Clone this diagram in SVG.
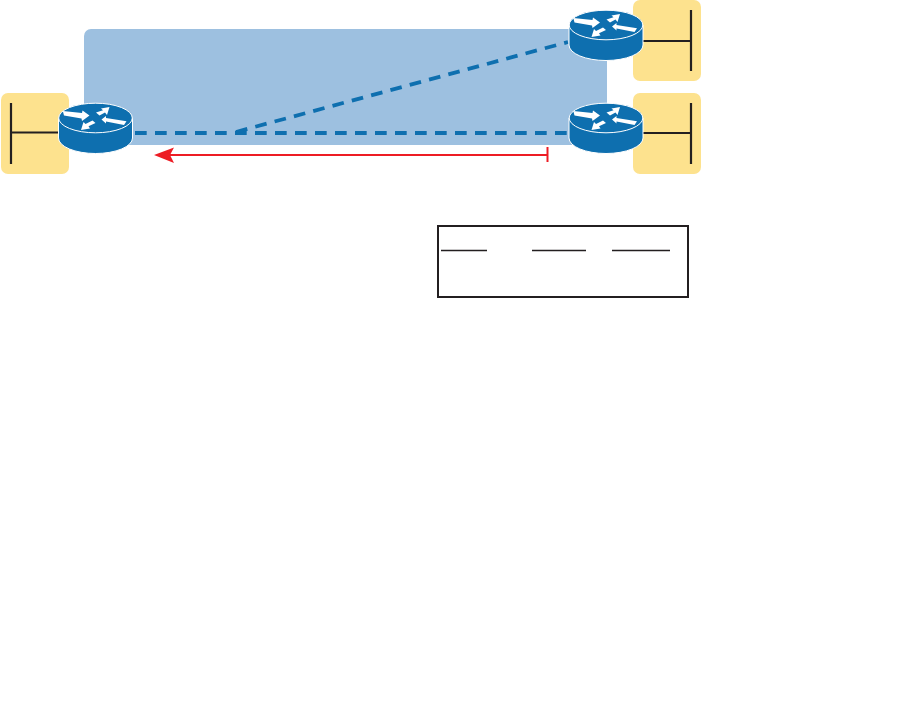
<svg xmlns="http://www.w3.org/2000/svg" width="899" height="707" viewBox="0 0 899 707">
<style>
.lan{fill:#FDE28E}
.eth{fill:none;stroke:#231F20;stroke-width:2.2}
.wan{fill:none;stroke:#0E6FAF;stroke-width:3.8;stroke-dasharray:11.7 8.3}
.rule{fill:none;stroke:#231F20;stroke-width:1.3}
.red{fill:none;stroke:#ED1C24;stroke-width:2}
</style>
<defs>
<g id="router">
<path d="M-37 0V20A37 15.5 0 0 0 37 20V0Z" fill="#0E6FAF" stroke="#fff" stroke-width="1"/>
<ellipse cx="0" cy="0" rx="36.8" ry="14.8" fill="#0E6FAF" stroke="#fff" stroke-width="1"/>
<g fill="#fff">
<polygon points="-32.700,-7 -31.500,-2.500 -14,0.500 -13.500,3 -6,-2.500 -13,-7.500 -13.500,-5"/>
<polygon points="0.500,-5.500 4,-2.500 9.500,-5.500 11.500,-3 14,-11 5.500,-9.500 7.500,-7.800"/>
<polygon points="6,1.500 10.500,-2 10.500,0 31,3.300 28.500,7 10.500,3.500 10.500,5.500"/>
<polygon points="-14.500,12 -12,4 -10,6 -3,2.500 0,5 -7,8.300 -5.500,10.500"/>
</g>
</g>
</defs>
<rect x="84" y="29" width="523" height="116" rx="7" fill="#9DC0E0"/>
<g id="lan-left">
<rect class="lan" x="1" y="93" width="68" height="81" rx="7"/>
<path class="eth" d="M11 103V164M11 132.500H59"/>
</g>
<g id="lan-top-right">
<rect class="lan" x="633" y="0" width="68" height="81" rx="7"/>
<path class="eth" d="M691 10V71M642 41H691"/>
</g>
<g id="lan-bottom-right">
<rect class="lan" x="633" y="93" width="68" height="81" rx="7"/>
<path class="eth" d="M691 103V164M642 133H691"/>
</g>
<g id="connectors">
<path class="wan" d="M135 133H567"/>
<path class="wan" d="M236 132L568 42"/>
<path class="red" d="M548 155H170"/>
<path class="red" d="M547.500 147V162"/>
<path d="M154 155L174 147.500L170 155L174 163Z" fill="#ED1C24"/>
</g>
<g id="router-left"><use href="#router" x="95.500" y="118"/></g>
<g id="router-top-right"><use href="#router" x="606" y="25"/></g>
<g id="router-bottom-right"><use href="#router" x="606" y="118"/></g>
<g id="table">
<rect x="438" y="226" width="250" height="71" fill="#fff" stroke="#231F20" stroke-width="2"/>
<path class="rule" d="M441 250.500H487M532 250.500H586M612 250.500H670"/>
</g>
</svg>
